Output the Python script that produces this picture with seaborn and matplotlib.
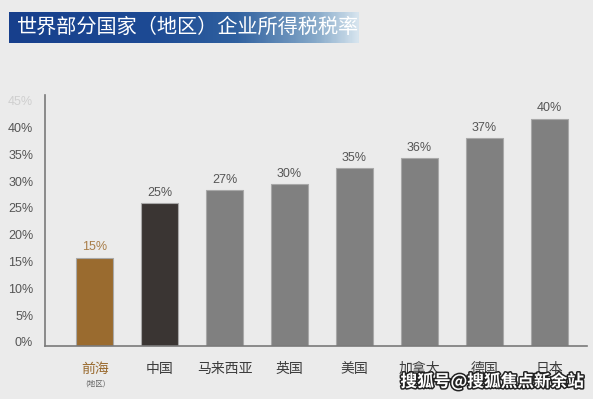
import numpy as np
import pandas as pd
import matplotlib
matplotlib.use("Agg")
import matplotlib.pyplot as plt
from matplotlib.colors import LinearSegmentedColormap
from matplotlib.transforms import ScaledTranslation
import matplotlib.patheffects as pe
import seaborn as sns

# ---- data ----
categories = ["前海", "中国", "马来西亚", "英国", "美国", "加拿大", "德国", "日本"]
bar_heights = [16.5, 26.7, 29.1, 30.2, 33.2, 35.1, 38.7, 42.4]   # as drawn
value_labels = ["15%", "25%", "27%", "30%", "35%", "36%", "37%", "40%"]
bar_colors = ["#9a6b2f", "#3a3533", "#808080", "#808080", "#808080",
              "#808080", "#808080", "#808080"]
y_ticks = [0, 5, 10, 15, 20, 25, 30, 35, 40, 45]
y_tick_labels = ["0%", "5%", "10%", "15%", "20%", "25%", "30%", "35%", "40%", "45%"]
title = "世界部分国家（地区）企业所得税税率"
sub_note = "(地区)"
watermark = "搜狐号@搜狐焦点新余站"

BG = "#ebebeb"
sns.set_style("white")
plt.rcParams["font.family"] = ["Noto Sans CJK SC", "DejaVu Sans"]

fig = plt.figure(figsize=(5.93, 3.99), dpi=100, facecolor=BG)

# ---- title banner ----
bax = fig.add_axes([9/593, 1 - 42.7/399, 350/593, 30.4/399])
cmap = LinearSegmentedColormap.from_list(
    "banner", [(0, "#173f8c"), (0.4, "#1d4a94"), (0.65, "#2f609f"),
               (0.88, "#86a9c9"), (1.0, "#d6e4ee")])
grad = np.linspace(0, 1, 300).reshape(1, -1)
bax.imshow(grad, aspect="auto", cmap=cmap, extent=[0, 1, 0, 1])
bax.set_axis_off()
bax.text(8/350, 0.5, title, color="white", fontsize=14.5, va="center", ha="left",
         transform=bax.transAxes)

# ---- bar chart ----
ax = fig.add_axes([45/593, 53/399, (586.7-45)/593, 251/399])
ax.set_facecolor(BG)
df = pd.DataFrame({"cat": categories, "h": bar_heights})
sns.barplot(data=df, x="cat", y="h", hue="cat", palette=bar_colors,
            width=0.57, legend=False, ax=ax, edgecolor="#a8a8a8", linewidth=0.8,
            saturation=1)
ax.set_xlim(-0.77, 7.58)
ax.set_ylim(0, 46.8)
ax.set_xlabel("")
ax.set_ylabel("")

for s in ["top", "right"]:
    ax.spines[s].set_visible(False)
for s in ["left", "bottom"]:
    ax.spines[s].set_color("#7a7a7a")
    ax.spines[s].set_linewidth(1.2)

ax.set_yticks(y_ticks)
ax.set_yticklabels(y_tick_labels, fontsize=9, color="#555555",
                   family=["Liberation Sans", "DejaVu Sans"])
ax.tick_params(axis="y", length=0, pad=8.5)
off = ScaledTranslation(0, 0.04, fig.dpi_scale_trans)
for lab in ax.get_yticklabels():
    lab.set_transform(lab.get_transform() + off)
ax.get_yticklabels()[-1].set_color("#cfcfcf")

ax.set_xticks(range(len(categories)))
ax.set_xticklabels(categories, fontsize=10, color="#3c3c3c")
ax.tick_params(axis="x", length=0, pad=11.5)
ax.get_xticklabels()[0].set_color("#9a6b2f")

for i, (h, t) in enumerate(zip(bar_heights, value_labels)):
    col = "#a87d48" if i == 0 else "#555555"
    ax.annotate(t, (i, h), xytext=(0, 3), textcoords="offset points",
                ha="center", va="bottom", fontsize=9, color=col,
                family=["Liberation Sans", "DejaVu Sans"])

fig.text(95/593, 1 - 384/399, sub_note, fontsize=5.5, color="#666666",
         ha="center", va="center")

fig.text(492/593, 1 - 381.5/399, watermark, fontsize=12, color="white",
         fontweight="bold", ha="center", va="center",
         path_effects=[pe.withStroke(linewidth=2.2, foreground="#222222")])

fig.savefig("out.png", dpi=100, facecolor=BG)
